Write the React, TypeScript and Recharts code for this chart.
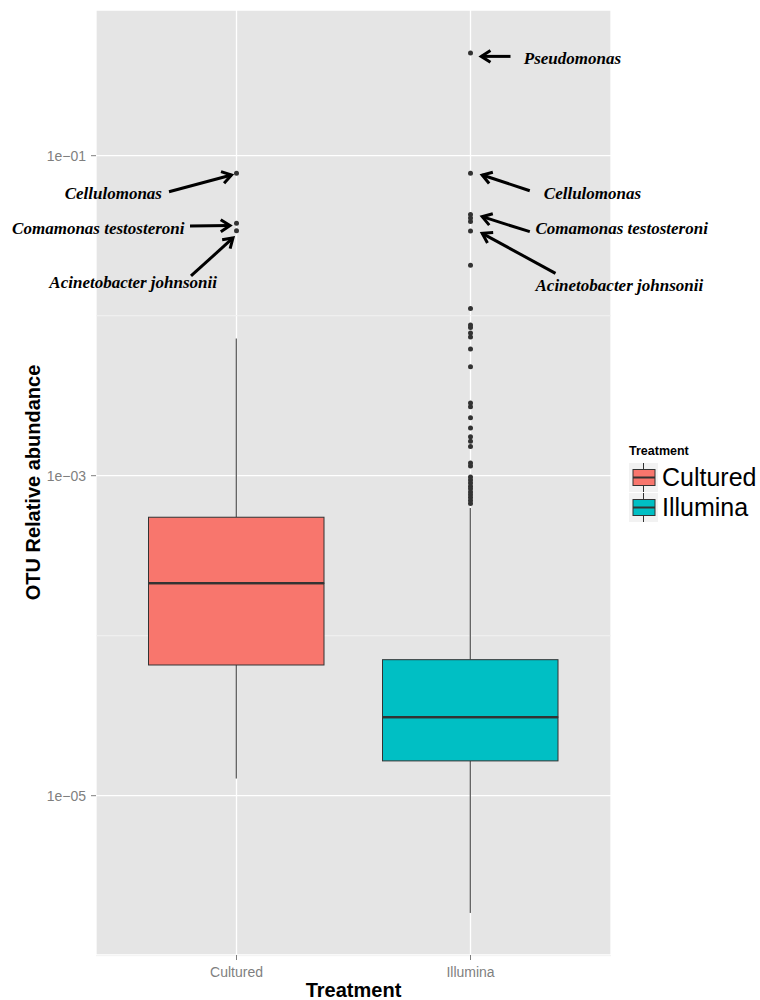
import React from "react";
import {
  ComposedChart,
  Bar,
  Scatter,
  XAxis,
  YAxis,
  CartesianGrid,
  Legend,
} from "recharts";

const TREATMENTS = ["Cultured", "Illumina"];
const FILLS = ["#F8766D", "#00BFC4"];

// box statistics per treatment (OTU relative abundance)
const WHISKER_LOW = [1.28e-5, 1.85e-6];
const Q1 = [6.56e-5, 1.65e-5];
const MEDIAN = [2.13e-4, 3.1e-5];
const Q3 = [5.5e-4, 7.08e-5];
const WHISKER_HIGH = [7.2e-3, 6.28e-4];

const CULTURED_OUTLIERS = [0.0776, 0.0378, 0.034];
const ILLUMINA_OUTLIERS = [
  0.4385, 0.0776, 0.0429, 0.0408, 0.0388, 0.0338, 0.0207, 0.0111, 0.00875,
  0.00843, 0.0078, 0.00736, 0.00619, 0.0048, 0.00285, 0.0027, 0.0023, 0.00199,
  0.00175, 0.00164, 0.00152, 0.0012, 0.00115, 0.00098, 0.00094, 0.0009,
  0.00086, 0.00083, 0.00079, 0.00076, 0.00073, 0.0007, 0.00067,
];

const LABELLED = [
  { treatment: "Cultured", value: 0.0776, label: "Cellulomonas" },
  { treatment: "Cultured", value: 0.0378, label: "Comamonas testosteroni" },
  { treatment: "Cultured", value: 0.034, label: "Acinetobacter johnsonii" },
  { treatment: "Illumina", value: 0.4385, label: "Pseudomonas" },
  { treatment: "Illumina", value: 0.0776, label: "Cellulomonas" },
  { treatment: "Illumina", value: 0.0408, label: "Comamonas testosteroni" },
  { treatment: "Illumina", value: 0.0338, label: "Acinetobacter johnsonii" },
];

const Y_TICKS = [1e-5, 1e-3, 1e-1];
const Y_MINOR = [1e-6, 1e-4, 1e-2];
const Y_DOMAIN = [1.01e-6, 0.814];

// arrow / label placement relative to the labelled point (px)
type Placement = {
  tail: [number, number];
  tip: [number, number];
  text: [number, number];
  anchor: "start" | "end";
};
const PLACEMENT: Record<string, Placement> = {
  "Cultured|Cellulomonas": { tail: [-67.5, 18.4], tip: [-5, 1.7], text: [-74.5, 19.2], anchor: "end" },
  "Cultured|Comamonas testosteroni": { tail: [-46.5, 2.7], tip: [-6.5, 2.3], text: [-52, 5], anchor: "end" },
  "Cultured|Acinetobacter johnsonii": { tail: [-45.5, 45.3], tip: [-3.5, 7.3], text: [-19.5, 51], anchor: "end" },
  "Illumina|Pseudomonas": { tail: [40, 3.4], tip: [10.7, 3.4], text: [53.3, 4.7], anchor: "start" },
  "Illumina|Cellulomonas": { tail: [59.3, 17.4], tip: [11.7, 1.7], text: [73.3, 19.4], anchor: "start" },
  "Illumina|Comamonas testosteroni": { tail: [59.3, 13.7], tip: [11.7, -1.3], text: [65, 10.3], anchor: "start" },
  "Illumina|Acinetobacter johnsonii": { tail: [85, 42.3], tip: [11.7, 2.3], text: [65, 54], anchor: "start" },
};

const boxData = TREATMENTS.map((t, i) => ({
  treatment: t,
  fill: FILLS[i],
  wLo: [WHISKER_LOW[i], Q1[i]],
  bLo: [Q1[i], MEDIAN[i]],
  bHi: [MEDIAN[i], Q3[i]],
  wHi: [Q3[i], WHISKER_HIGH[i]],
}));

const outlierData = [
  ...CULTURED_OUTLIERS.map((v) => ({ treatment: "Cultured", value: v })),
  ...ILLUMINA_OUTLIERS.map((v) => ({ treatment: "Illumina", value: v })),
];

const INK = "#333333";
const AXIS_GREY = "#7F7F7F";
const BOX_WIDTH = 175.5;
const X_PAD = { left: 23.5, right: 23.5 };

const fmtTick = (v: number) => {
  const e = Math.round(Math.log10(v));
  return `1e${e < 0 ? "\u2212" : "+"}${String(Math.abs(e)).padStart(2, "0")}`;
};

const Whisker = (props: any) => {
  const { x, y, width, height } = props;
  const cx = x + width / 2;
  return <line x1={cx} x2={cx} y1={y} y2={y + height} stroke={INK} strokeWidth={1} />;
};

const BoxLower = (props: any) => {
  const { x, y, width, height, payload } = props;
  return (
    <g>
      <rect x={x} y={y} width={width} height={height} fill={payload.fill} stroke={INK} strokeWidth={1} />
      <line x1={x} x2={x + width} y1={y} y2={y} stroke={INK} strokeWidth={2.2} />
    </g>
  );
};

const BoxUpper = (props: any) => {
  const { x, y, width, height, payload } = props;
  return (
    <g>
      <rect x={x} y={y} width={width} height={height} fill={payload.fill} stroke={INK} strokeWidth={1} />
      <line x1={x} x2={x + width} y1={y + height} y2={y + height} stroke={INK} strokeWidth={2.2} />
    </g>
  );
};

const Dot = (props: any) => <circle cx={props.cx} cy={props.cy} r={2.5} fill={INK} />;

const Annotation = (props: any) => {
  const { cx, cy, payload } = props;
  const p = PLACEMENT[`${payload.treatment}|${payload.label}`];
  if (!p || cx == null || cy == null) return <g />;
  const x1 = cx + p.tail[0];
  const y1 = cy + p.tail[1];
  const x2 = cx + p.tip[0];
  const y2 = cy + p.tip[1];
  const ang = Math.atan2(y2 - y1, x2 - x1);
  const len = 11;
  const spread = Math.PI / 5.5;
  const h1 = [x2 - len * Math.cos(ang - spread), y2 - len * Math.sin(ang - spread)];
  const h2 = [x2 - len * Math.cos(ang + spread), y2 - len * Math.sin(ang + spread)];
  return (
    <g>
      <g stroke="#000" strokeWidth={3} fill="none" strokeLinejoin="miter">
        <line x1={x1} y1={y1} x2={x2} y2={y2} />
        <polyline points={`${h1[0]},${h1[1]} ${x2},${y2} ${h2[0]},${h2[1]}`} />
      </g>
      <text
        x={cx + p.text[0]}
        y={cy + p.text[1] + 6}
        textAnchor={p.anchor}
        fontFamily="'Liberation Serif', 'Times New Roman', serif"
        fontStyle="italic"
        fontWeight="bold"
        fontSize={17}
        fill="#000"
      >
        {payload.label}
      </text>
    </g>
  );
};

const LegendBox = () => (
  <div style={{ fontFamily: "'Liberation Sans', Arial, sans-serif", lineHeight: 1 }}>
    <div style={{ fontSize: 12.5, fontWeight: "bold", height: 12, marginBottom: 6 }}>Treatment</div>
    {TREATMENTS.map((t, i) => (
      <div key={t} style={{ display: "flex", alignItems: "center", height: 29, marginBottom: 1 }}>
        <svg width={29} height={29}>
          <rect x={0} y={0} width={29} height={29} fill="#F2F2F2" />
          <line x1={14.5} x2={14.5} y1={0} y2={29} stroke={INK} strokeWidth={1} />
          <rect x={4} y={6.5} width={22} height={16} fill={FILLS[i]} stroke={INK} strokeWidth={1} />
          <line x1={4} x2={26} y1={14.5} y2={14.5} stroke={INK} strokeWidth={2} />
        </svg>
        <span style={{ fontSize: 25, marginLeft: 4 }}>{t}</span>
      </div>
    ))}
  </div>
);

const hiddenAxis = (id: string) => (
  <XAxis
    key={id}
    xAxisId={id}
    dataKey="treatment"
    type="category"
    allowDuplicatedCategory={false}
    padding={X_PAD}
    hide
  />
);

export default function App() {
  return (
    <div
      style={{
        position: "absolute",
        left: 0,
        top: 0,
        width: 760,
        height: 1000,
        background: "#fff",
        fontFamily: "'Liberation Sans', Arial, sans-serif",
      }}
    >
      <ComposedChart
        width={760}
        height={1000}
        data={boxData}
        margin={{ top: 10, right: 149, bottom: 0, left: 26 }}
        barSize={BOX_WIDTH}
      >
        <CartesianGrid
          fill="#E5E5E5"
          stroke="#FFFFFF"
          strokeWidth={1.3}
          vertical={true}
        />
        <CartesianGrid
          horizontalValues={Y_MINOR}
          vertical={false}
          stroke="#F2F2F2"
          strokeWidth={1}
        />
        <XAxis
          dataKey="treatment"
          type="category"
          allowDuplicatedCategory={false}
          padding={X_PAD}
          height={45}
          axisLine={false}
          tickSize={5}
          tickMargin={7}
          tickLine={{ stroke: AXIS_GREY }}
          tick={{ fill: AXIS_GREY, fontSize: 14 }}
          label={{
            value: "Treatment",
            position: "insideBottom",
            offset: 3,
            fill: "#000",
            fontSize: 20,
            fontWeight: "bold",
          }}
        />
        {hiddenAxis("wl")}
        {hiddenAxis("bl")}
        {hiddenAxis("bh")}
        {hiddenAxis("wh")}
        <YAxis
          type="number"
          scale="log"
          domain={Y_DOMAIN}
          ticks={Y_TICKS}
          interval={0}
          tickFormatter={fmtTick}
          width={70}
          axisLine={false}
          tickSize={5}
          tickMargin={5}
          tickLine={{ stroke: AXIS_GREY }}
          tick={{ fill: AXIS_GREY, fontSize: 14 }}
          label={{
            value: "OTU Relative abundance",
            angle: -90,
            position: "insideLeft",
            offset: 7,
            fill: "#000",
            fontSize: 20,
            fontWeight: "bold",
            style: { textAnchor: "middle" },
          }}
        />
        <Bar xAxisId="wl" dataKey="wLo" shape={Whisker} isAnimationActive={false} />
        <Bar xAxisId="wh" dataKey="wHi" shape={Whisker} isAnimationActive={false} />
        <Bar xAxisId="bl" dataKey="bLo" shape={BoxLower} isAnimationActive={false} />
        <Bar xAxisId="bh" dataKey="bHi" shape={BoxUpper} isAnimationActive={false} />
        <Scatter data={outlierData} dataKey="value" shape={Dot} isAnimationActive={false} />
        <Scatter data={LABELLED} dataKey="value" shape={Annotation} isAnimationActive={false} />
        <Legend
          layout="horizontal"
          verticalAlign="middle"
          align="center"
          content={() => <LegendBox />}
          wrapperStyle={{ left: 629, top: 445, width: 131, right: "auto", bottom: "auto" }}
        />
      </ComposedChart>
    </div>
  );
}
